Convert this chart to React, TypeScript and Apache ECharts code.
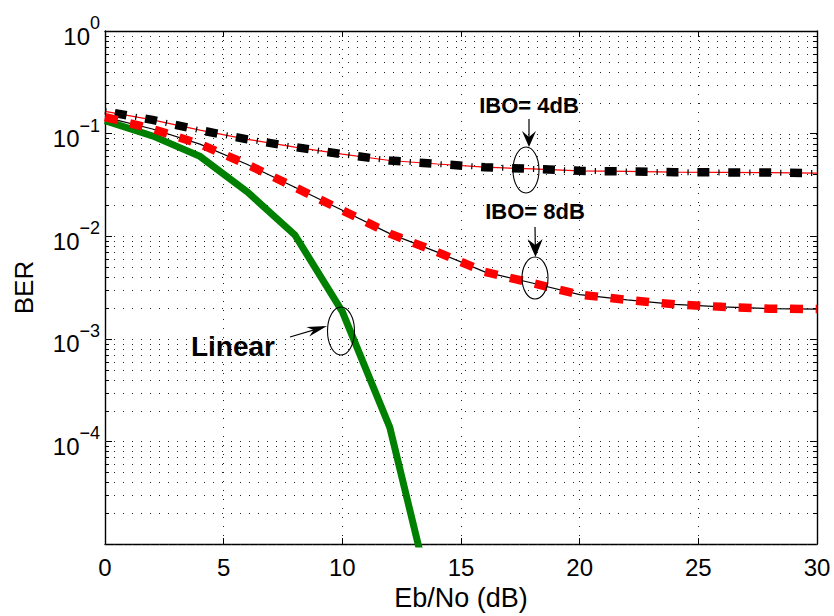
import React, { useEffect, useRef } from 'react';
import * as echarts from 'echarts';

// ---- data ----
const EBNO = [0, 2, 4, 6, 8, 10, 12, 14, 16, 18, 20, 22, 24, 26, 28, 30];
const LINEAR_X = [0, 2, 4, 6, 8, 10, 12, 14];
const LINEAR_BER = [0.134, 0.095, 0.06, 0.027, 0.0103, 0.00184, 0.000137, 0.0000017];
const IBO4_BER = [0.165, 0.136, 0.108, 0.088, 0.074, 0.063, 0.0547, 0.0506, 0.0471, 0.0453, 0.0434, 0.0428, 0.0421, 0.0419, 0.0417, 0.0412];
const IBO8_BER = [0.145, 0.111, 0.079, 0.05, 0.03, 0.0179, 0.0106, 0.007, 0.0045, 0.0035, 0.0027, 0.0024, 0.00217, 0.00205, 0.00197, 0.00195];

// tick / grid positions
const X_MIN = 0;
const X_MAX = 30;
const X_STEP = 5;
const Y_MIN = 1e-5;
const Y_MAX = 1;
const Y_DECADES = [-5, -4, -3, -2, -1];
const Y_MANTISSAS = [1, 2, 3, 4, 5, 6, 7, 8, 9];
const Y_GRID = Y_DECADES.flatMap((e) => Y_MANTISSAS.map((m) => m * Math.pow(10, e)));

const FONT = '"Liberation Sans", Arial, Helvetica, sans-serif';

function pairs(xs: number[], ys: number[]) {
  return xs.map((x, i) => [x, ys[i]]);
}

function arrowHead(tip: number[], from: number[], len: number, half: number, notch: number) {
  const dx = tip[0] - from[0];
  const dy = tip[1] - from[1];
  const L = Math.hypot(dx, dy);
  const ux = dx / L, uy = dy / L;
  const nx = -uy, ny = ux;
  const bx = tip[0] - ux * len, by = tip[1] - uy * len;
  return [
    tip,
    [bx + nx * half, by + ny * half],
    [tip[0] - ux * notch, tip[1] - uy * notch],
    [bx - nx * half, by - ny * half],
  ];
}

function arrow(from: number[], tip: number[], len: number, half: number, notch: number) {
  return [
    {
      type: 'line',
      z: 100,
      shape: { x1: from[0], y1: from[1], x2: tip[0] - (tip[0] - from[0]) * 0.1, y2: tip[1] - (tip[1] - from[1]) * 0.1 },
      style: { stroke: '#000', lineWidth: 1.2 },
    },
    {
      type: 'polygon',
      z: 100,
      shape: { points: arrowHead(tip, from, len, half, notch) },
      style: { fill: '#000' },
    },
  ];
}

function label(text: string, x: number, y: number, size: number) {
  return {
    type: 'text',
    z: 100,
    x,
    y,
    style: {
      text,
      fontFamily: FONT,
      fontSize: size,
      fontWeight: 'bold',
      fill: '#000',
      align: 'center',
      verticalAlign: 'middle',
      textAlign: 'center',
      textVerticalAlign: 'middle',
    },
  };
}

function ellipse(cx: number, cy: number, rx: number, ry: number) {
  return {
    type: 'ellipse',
    z: 100,
    shape: { cx, cy, rx, ry },
    style: { fill: 'none', stroke: '#000', lineWidth: 1.1 },
  };
}

export default function App() {
  const ref = useRef<HTMLDivElement>(null);

  useEffect(() => {
    document.body.style.margin = '0';
    if (!ref.current) return;
    const chart = echarts.init(ref.current, null, { renderer: 'svg' });

    const axisLineStyle = { color: '#000', width: 1.4 };

    const option: any = {
      animation: false,
      backgroundColor: '#fff',
      grid: { left: 105, right: 17, top: 31, bottom: 65, containLabel: false },
      xAxis: [
        {
          type: 'value',
          min: X_MIN,
          max: X_MAX,
          interval: X_STEP,
          position: 'bottom',
          name: 'Eb/No (dB)',
          nameLocation: 'middle',
          nameGap: 37,
          nameTextStyle: { fontFamily: FONT, fontSize: 27, color: '#000' },
          axisLine: { show: true, onZero: false, lineStyle: axisLineStyle },
          axisTick: { show: true, inside: true, length: 6, lineStyle: { color: '#000', width: 1 } },
          axisLabel: { fontFamily: FONT, fontSize: 24, color: '#000', margin: 11 },
          splitLine: { show: true, lineStyle: { color: '#222', width: 1, type: [1, 8] } },
        },
        {
          type: 'value',
          min: X_MIN,
          max: X_MAX,
          interval: X_STEP,
          position: 'top',
          axisLine: { show: true, onZero: false, lineStyle: axisLineStyle },
          axisTick: { show: true, inside: true, length: 6, lineStyle: { color: '#000', width: 1 } },
          axisLabel: { show: false },
          splitLine: { show: false },
        },
      ],
      yAxis: [
        {
          type: 'log',
          logBase: 10,
          min: Y_MIN,
          max: Y_MAX,
          splitNumber: 5,
          position: 'left',
          name: 'BER',
          nameLocation: 'middle',
          nameRotate: 90,
          nameGap: 68,
          nameTextStyle: { fontFamily: FONT, fontSize: 26, color: '#000' },
          axisLine: { show: true, onZero: false, lineStyle: axisLineStyle },
          axisTick: { show: true, inside: true, length: 7, lineStyle: { color: '#000', width: 1 } },
          splitLine: { show: false },
          axisLabel: {
            margin: 5,
            formatter: (v: number) => {
              const e = Math.round(Math.log10(v));
              if (e === -5) return '';
              const sup = e === 0 ? '0' : '\u2212' + String(-e);
              return '{b|10}{s|' + sup + '}';
            },
            rich: {
              b: { fontFamily: FONT, fontSize: 24, color: '#000', verticalAlign: 'bottom', lineHeight: 34 },
              s: { fontFamily: FONT, fontSize: 18, color: '#000', verticalAlign: 'top', lineHeight: 34 },
            },
          },
        },
        {
          type: 'log',
          logBase: 10,
          min: Y_MIN,
          max: Y_MAX,
          splitNumber: 5,
          position: 'right',
          axisLine: { show: true, onZero: false, lineStyle: axisLineStyle },
          axisTick: { show: true, inside: true, length: 7, lineStyle: { color: '#000', width: 1 } },
          axisLabel: { show: false },
          splitLine: { show: false },
        },
      ],
      series: [
        {
          type: 'custom',
          name: 'grid',
          z: 1,
          silent: true,
          clip: false,
          data: Y_GRID.map((v) => [X_MIN, v]),
          renderItem: (params: any, api: any) => {
            const v = api.value(1);
            const p0 = api.coord([X_MIN, v]);
            const p1 = api.coord([X_MAX, v]);
            const y = Math.round(p0[1]) + 0.5;
            const children: any[] = [
              {
                type: 'line',
                shape: { x1: p0[0], y1: y, x2: p1[0], y2: y },
                style: { stroke: '#222', lineWidth: 1, lineDash: [1, 8] },
              },
            ];
            const isMajor = Math.abs(Math.log10(v) - Math.round(Math.log10(v))) < 1e-6;
            if (!isMajor) {
              children.push(
                { type: 'line', shape: { x1: p0[0], y1: y, x2: p0[0] + 4, y2: y }, style: { stroke: '#000', lineWidth: 1 } },
                { type: 'line', shape: { x1: p1[0] - 4, y1: y, x2: p1[0], y2: y }, style: { stroke: '#000', lineWidth: 1 } }
              );
            }
            return { type: 'group', children };
          },
        },
        {
          type: 'line',
          name: 'Linear',
          z: 3,
          data: pairs(LINEAR_X, LINEAR_BER),
          showSymbol: false,
          symbol: 'none',
          lineStyle: { color: '#008000', width: 7, join: 'miter' },
        },
        {
          type: 'line',
          name: 'IBO 4dB thin',
          z: 4,
          data: pairs(EBNO, IBO4_BER),
          showSymbol: false,
          symbol: 'none',
          lineStyle: { color: '#ff0000', width: 1.2 },
        },
        {
          type: 'line',
          name: 'IBO 4dB',
          z: 5,
          data: pairs(EBNO, IBO4_BER),
          showSymbol: false,
          symbol: 'none',
          lineStyle: { color: '#000', width: 8.5, type: [12, 18.9], dashOffset: 21 },
        },
        {
          type: 'line',
          name: 'IBO 4dB ticks',
          z: 5,
          data: pairs(EBNO, IBO4_BER),
          showSymbol: false,
          symbol: 'none',
          lineStyle: { color: '#000', width: 6, type: [1.2, 29.7], dashOffset: 0 },
        },
        {
          type: 'line',
          name: 'IBO 8dB thin',
          z: 4,
          data: pairs(EBNO, IBO8_BER),
          showSymbol: false,
          symbol: 'none',
          lineStyle: { color: '#000', width: 1.2 },
        },
        {
          type: 'line',
          name: 'IBO 8dB',
          z: 5,
          data: pairs(EBNO, IBO8_BER),
          showSymbol: false,
          symbol: 'none',
          lineStyle: { color: '#ff0000', width: 8.5, type: [13, 12.7], dashOffset: 0 },
        },
      ],
      graphic: [
        label('IBO= 4dB', 529, 105, 22),
        ...arrow([529, 119], [529, 147], 16, 7, 10),
        ellipse(526, 170, 13, 23),
        label('IBO= 8dB', 535, 211, 22),
        ...arrow([535, 227], [535.5, 257], 18, 7.5, 12),
        ellipse(535, 278, 13, 21),
        label('Linear', 233, 346, 28),
        ...arrow([290, 337], [327, 326], 20, 5, 14),
        ellipse(341, 331, 13.5, 24),
      ],
    };

    chart.setOption(option);
    return () => chart.dispose();
  }, []);

  return <div ref={ref} style={{ width: 834, height: 616 }} />;
}
